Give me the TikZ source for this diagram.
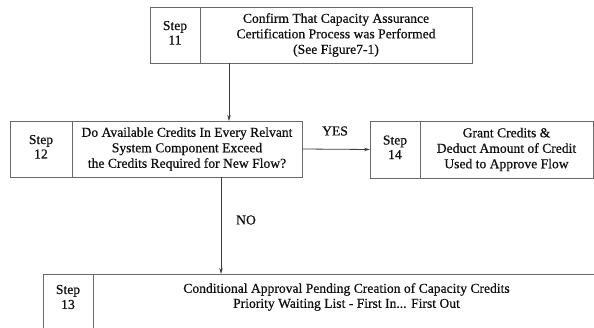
\documentclass[tikz,border=0pt]{standalone}
\usepackage{fontspec}
\setmainfont{Liberation Serif}
\newfontfamily\heavyfont{Liberation Serif}[FakeBold=0.6]
\usetikzlibrary{arrows.meta}
\definecolor{linec}{RGB}{105,105,105}
\definecolor{arrc}{RGB}{60,60,60}
\definecolor{txtc}{RGB}{15,15,15}
\begin{document}
\begin{tikzpicture}[x=1pt,y=-1pt,
  cell/.style={draw=linec, line width=0.9pt, inner sep=0pt, outer sep=0pt, align=center,
    text=txtc, font=\heavyfont\fontsize{13.6}{15.5}\selectfont},
  stepcell/.style={cell, font=\heavyfont\fontsize{13.6}{14.5}\selectfont},
  opencell/.style={inner sep=0pt, outer sep=0pt, align=center, text=txtc,
    font=\heavyfont\fontsize{13.6}{15}\selectfont},
  arr/.style={draw=arrc, line width=0.8pt, -{Stealth[length=6pt,width=3.5pt]}},
  lbl/.style={text=txtc, inner sep=0pt, font=\heavyfont\fontsize{13.6}{15}\selectfont}]
\clip (0,0) rectangle (594,328);
\useasboundingbox (0,0) rectangle (594,328);

% Step 11
\node[stepcell, minimum width=50, minimum height=56] (s11) at (175,35) {Step\\11\\[-10pt]};
\node[cell, minimum width=272, minimum height=56] (t11) at (336,35)
  {Confirm That Capacity Assurance\\Certification Process was Performed\\(See Figure7-1)};

% Step 12
\node[stepcell, minimum width=62, minimum height=56] (s12) at (41,149) {Step\\12\\[-10pt]};
\node[cell, minimum width=230, minimum height=56] (t12) at (187,149)
  {Do Available Credits In Every Relvant\\System Component Exceed\\the Credits Required for New Flow?};

% Step 14
\node[stepcell, minimum width=50, minimum height=57] (s14) at (395,149.5) {Step\\14\\[-10pt]};
\node[cell, minimum width=173, minimum height=57] (t14) at (506.5,149.5)
  {Grant Credits \&\\Deduct Amount of Credit\\Used to Approve Flow};

% Step 13 (open to the right and bottom)
\node[opencell, minimum width=50, minimum height=46] (s13) at (68,297) {Step\\13};
\node[opencell, minimum width=507, minimum height=46] (t13) at (346.5,297)
  {Conditional Approval Pending Creation of Capacity Credits\\Priority Waiting List - First In... First Out};
\draw[draw=linec, line width=0.9pt] ([yshift=-40]s13.south west) -- (s13.north west) -- (t13.north east);
\draw[draw=linec, line width=0.9pt] (s13.north east) -- ([yshift=-40]s13.south east);

% connectors
\coordinate (a1) at ([xshift=29]t11.south west);
\draw[arr] (a1) -- (a1 |- t12.north);
\draw[arr] (t12.east) -- (s14.west);
\coordinate (a2) at ([xshift=149]t12.south west);
\draw[arr] (a2) -- (a2 |- t13.north);

\node[lbl] (yes) at (335,131) {YES};
\node[lbl] (no) at (246,220) {NO};
\end{tikzpicture}
\end{document}
